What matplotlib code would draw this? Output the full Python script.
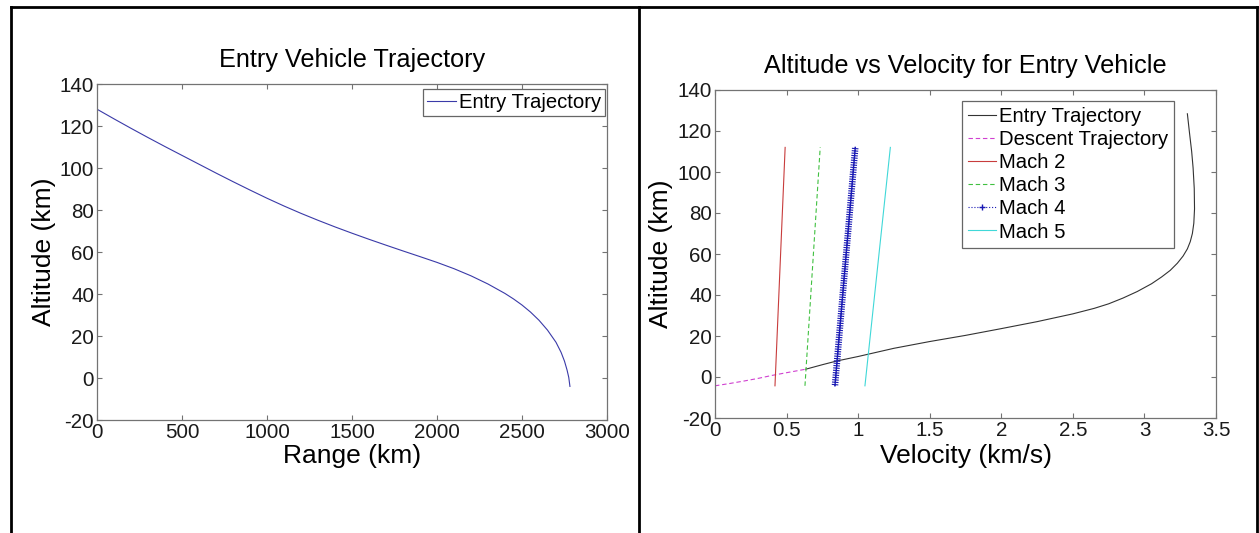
import matplotlib
matplotlib.use("Agg")
import matplotlib.pyplot as plt
import matplotlib.patheffects as pe
from matplotlib.lines import Line2D
import numpy as np

plt.rcParams['font.family'] = ['Liberation Sans', 'DejaVu Sans']
plt.rcParams['axes.unicode_minus'] = False

########################################################################################################################
# data
########################################################################################################################

# left panel: entry trajectory, range (km) vs altitude (km)
range_km = [0, 100, 200, 300, 400, 500, 600, 700, 800, 900, 1000, 1100, 1200, 1300, 1400, 1500,
            1600, 1700, 1800, 1900, 2000, 2100, 2200, 2300, 2400, 2450, 2500, 2550, 2600, 2650,
            2700, 2730, 2750, 2765, 2775, 2782]
range_alt = [128, 123.4, 118.9, 114.5, 110.2, 106.0, 101.8, 97.6, 93.5, 89.5, 85.6, 81.9, 78.4,
             75.1, 71.95, 68.95, 66.05, 63.25, 60.5, 57.8, 55.05, 52.05, 48.65, 44.75, 40.25,
             37.65, 34.75, 31.4, 27.5, 22.8, 17.0, 12.2, 8.0, 3.8, 0.3, -4]

# right panel: entry trajectory, velocity (km/s) vs altitude (km)
entry_vel = [0.634, 0.75, 0.85, 1.0, 1.25, 1.5, 1.75, 2.0, 2.25, 2.5, 2.65, 2.75, 2.85, 2.95,
             3.05, 3.12, 3.18, 3.23, 3.27, 3.30, 3.32, 3.335, 3.345, 3.35, 3.348, 3.34, 3.33,
             3.315, 3.30]
entry_alt = [3.8, 6.0, 7.8, 10.0, 14.0, 17.3, 20.3, 23.6, 27.0, 30.8, 33.5, 35.7, 38.5, 41.7,
             45.5, 48.8, 52.0, 55.5, 59.0, 62.5, 66.0, 70.0, 75.0, 82.0, 92.0, 102.0, 110.0,
             119.0, 128.4]

# descent trajectory
descent_vel = [0, 0.1, 0.2, 0.3, 0.4, 0.5, 0.634]
descent_alt = [-4.3, -3.2, -2.0, -0.7, 0.8, 2.1, 3.8]

# speed of sound (km/s) at bottom / top of the Mach lines
mach_alt = [-4.3, 112]
sound_speed = [0.2095, 0.245]
mach_numbers = [2, 3, 4, 5]

range_ticks = [0, 500, 1000, 1500, 2000, 2500, 3000]
alt_ticks = [-20, 0, 20, 40, 60, 80, 100, 120, 140]
vel_ticks = [0, 0.5, 1, 1.5, 2, 2.5, 3, 3.5]
vel_ticklabels = ['0', '0.5', '1', '1.5', '2', '2.5', '3', '3.5']

########################################################################################################################
# style
########################################################################################################################

W, H = 1259, 533
TICK_FS = 14.8
LEG_FS = 14.6
LABEL_FS = 19
TITLE_FS = 18.2
AX_GREY = '0.45'


def style_axes(ax):
    for s in ax.spines.values():
        s.set_color(AX_GREY)
        s.set_linewidth(0.9)
    ax.tick_params(direction='in', length=3.5, width=0.8, color=AX_GREY,
                   top=True, right=True, labelsize=TICK_FS, labelcolor='0.1', pad=2)


def style_legend(leg):
    fr = leg.get_frame()
    fr.set_edgecolor('0.4')
    fr.set_linewidth(0.9)
    fr.set_boxstyle('square', pad=0)


fig = plt.figure(figsize=(W / 100, H / 100), dpi=100)

# table-like frame around both panels
for xs, ys in [([11, 11], [7, H]), ([11, 1257], [7, 7]), ([1257, 1257], [7, H]), ([639, 639], [7, H])]:
    fig.add_artist(Line2D([x / W for x in xs], [1 - y / H for y in ys], color='black', lw=2.0,
                          transform=fig.transFigure))

########################################################################################################################
# left panel
########################################################################################################################

ax1 = fig.add_axes([97 / W, 1 - 420 / H, (607 - 97) / W, (420 - 84) / H])
ax1.plot(range_km, range_alt, color='#3a3aa8', lw=0.8, label='Entry Trajectory')
ax1.set_xlim(0, 3000)
ax1.set_ylim(-20, 140)
ax1.set_xticks(range_ticks)
ax1.set_yticks(alt_ticks)
style_axes(ax1)
ax1.set_title('Entry Vehicle Trajectory', fontsize=TITLE_FS, pad=12)
ax1.set_xlabel('Range (km)', fontsize=LABEL_FS)
ax1.set_ylabel('Altitude (km)', fontsize=LABEL_FS)
ax1.xaxis.set_label_coords(0.5, -0.072)
ax1.yaxis.set_label_coords(-0.081, 0.5)
leg1 = ax1.legend(loc='upper right', bbox_to_anchor=(0.996, 0.985), borderaxespad=0,
                  fontsize=LEG_FS, fancybox=False, framealpha=1, handlelength=1.4,
                  handletextpad=0.15, borderpad=0.2)
style_legend(leg1)

########################################################################################################################
# right panel
########################################################################################################################

ax2 = fig.add_axes([715 / W, 1 - 418 / H, (1216 - 715) / W, (418 - 90) / H])
ax2.plot(entry_vel, entry_alt, color='0.2', lw=0.8)
ax2.plot(descent_vel, descent_alt, color='#d040d0', lw=0.8, ls=(0, (4, 2.5)))

mach_styles = {
    2: dict(color='#c83c3c', ls='-'),
    3: dict(color='#40c040', ls=(0, (4, 2.5))),
    4: dict(color='#1a1ab4', ls=':'),
    5: dict(color='#40d8d8', ls='-'),
}
for m in mach_numbers:
    v = [m * a for a in sound_speed]
    st = mach_styles[m]
    if m == 4:
        # the '+' markers sit so close together that they form a ticked band
        ax2.plot(v, mach_alt, color=st['color'], ls='-', lw=1.0,
                 path_effects=[pe.TickedStroke(angle=90, spacing=1.7, length=1.15, linewidth=0.8),
                               pe.TickedStroke(angle=-90, spacing=1.7, length=1.15, linewidth=0.8),
                               pe.Normal()])
    ax2.plot(v, mach_alt, color=st['color'], ls=st['ls'], lw=0.8)

ax2.set_xlim(0, 3.5)
ax2.set_ylim(-20, 140)
ax2.set_xticks(vel_ticks)
ax2.set_xticklabels(vel_ticklabels)
ax2.set_yticks(alt_ticks)
style_axes(ax2)
ax2.set_title('Altitude vs Velocity for Entry Vehicle', fontsize=TITLE_FS, pad=12)
ax2.set_xlabel('Velocity (km/s)', fontsize=LABEL_FS)
ax2.set_ylabel('Altitude (km)', fontsize=LABEL_FS)
ax2.xaxis.set_label_coords(0.5, -0.079)
ax2.yaxis.set_label_coords(-0.083, 0.5)

handles = [Line2D([], [], color='0.2', lw=0.8),
           Line2D([], [], color='#d040d0', lw=0.8, ls=(0, (4, 2.5)))]
for m in mach_numbers:
    st = mach_styles[m]
    handles.append(Line2D([], [], color=st['color'], ls=st['ls'], lw=0.8,
                          marker='+' if m == 4 else None, markersize=5))
labels = ['Entry Trajectory', 'Descent Trajectory'] + ['Mach {}'.format(m) for m in mach_numbers]
leg2 = ax2.legend(handles, labels, loc='upper right', bbox_to_anchor=(0.916, 0.966), borderaxespad=0,
                  fontsize=LEG_FS, fancybox=False, framealpha=1, handlelength=1.35,
                  handletextpad=0.15, borderpad=0.3, labelspacing=0.2)
style_legend(leg2)

fig.savefig('out.png', dpi=100)
